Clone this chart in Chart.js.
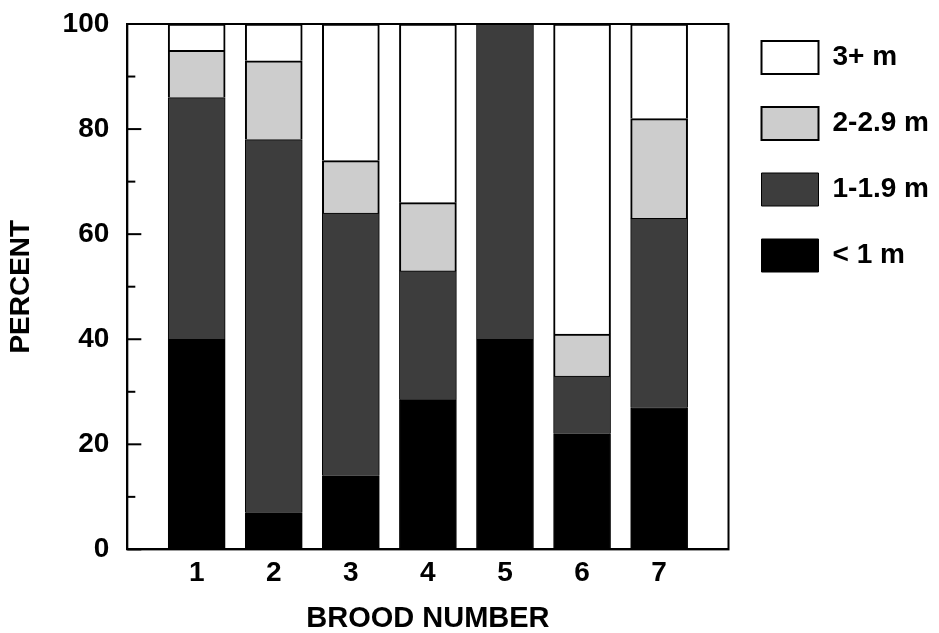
<!DOCTYPE html>
<html>
<head>
<meta charset="utf-8">
<script src="https://cdn.jsdelivr.net/npm/chart.js@4"></script>
<style>
html,body{margin:0;padding:0;background:#fff;}
#wrap{position:relative;width:939px;height:633px;}
</style>
</head>
<body>
<div id="wrap"><canvas id="c" width="939" height="633"></canvas></div>
<script>
// ---- data ----
const broods = [1, 2, 3, 4, 5, 6, 7];
const broodLabels = ['1', '2', '3', '4', '5', '6', '7'];
const seriesNames = ['< 1 m', '1-1.9 m', '2-2.9 m', '3+ m'];
const lessThan1 = [40, 7, 14, 28.5, 40, 22, 27];
const from1to19 = [46, 71, 50, 24.5, 60, 11, 36];
const from2to29 = [9, 15, 10, 13, 0, 8, 19];
const threePlus = [5, 7, 26, 34, 0, 59, 18];
const yTicks = [0, 20, 40, 60, 80, 100];
const yMinorTicks = [10, 30, 50, 70, 90];

const seriesValues = [lessThan1, from1to19, from2to29, threePlus];
const fills = ['#000000', '#3d3d3d', '#cdcdcd', '#ffffff'];

const FONT = "'Liberation Sans', Arial, Helvetica, sans-serif";

const datasets = seriesNames.map((name, i) => ({
  label: name,
  data: broods.map((b, j) => ({ x: b, y: seriesValues[i][j] })),
  backgroundColor: fills[i],
  borderColor: '#000',
  borderWidth: i >= 2 ? 2 : 1,
  barThickness: 57,
}));

const framePlugin = {
  id: 'frame',
  afterDatasetsDraw(chart) {
    const { ctx, chartArea: a } = chart;
    const y = chart.scales.y;
    ctx.save();
    ctx.strokeStyle = '#000';
    ctx.lineWidth = 2;
    ctx.strokeRect(a.left, a.top, a.right - a.left, a.bottom - a.top);
    yTicks.forEach(v => {
      const py = y.getPixelForValue(v);
      ctx.beginPath(); ctx.moveTo(a.left, py); ctx.lineTo(a.left + 14, py); ctx.stroke();
    });
    yMinorTicks.forEach(v => {
      const py = y.getPixelForValue(v);
      ctx.beginPath(); ctx.moveTo(a.left, py); ctx.lineTo(a.left + 8, py); ctx.stroke();
    });
    ctx.restore();
  }
};

new Chart(document.getElementById('c'), {
  type: 'bar',
  data: { datasets },
  options: {
    responsive: false,
    animation: false,
    layout: { padding: { left: 0, right: 0, top: 8, bottom: 0 } },
    plugins: {
      tooltip: { enabled: false },
      legend: {
        position: 'right',
        align: 'start',
        reverse: true,
        labels: {
          boxWidth: 57,
          boxHeight: 33,
          padding: 33,
          color: '#000',
          font: { family: FONT, size: 28, weight: 'bold' },
        }
      }
    },
    scales: {
      x: {
        type: 'linear',
        stacked: true,
        offset: false,
        min: 0.1,
        max: 7.9,
        afterBuildTicks(scale) { scale.ticks = broods.map(v => ({ value: v })); },
        ticks: {
          color: '#000',
          padding: 7,
          font: { family: FONT, size: 28, weight: 'bold' },
          callback: (v) => broodLabels[broods.indexOf(v)] ?? '',
          maxRotation: 0,
          autoSkip: false,
        },
        grid: { display: false, drawTicks: false },
        border: { display: true, color: '#000', width: 2 },
        title: {
          display: true,
          text: 'BROOD NUMBER',
          color: '#000',
          font: { family: FONT, size: 29, weight: 'bold', lineHeight: 1 },
          padding: { top: 7, bottom: 0 },
        }
      },
      y: {
        stacked: true,
        min: 0,
        max: 100,
        afterBuildTicks(scale) { scale.ticks = yTicks.map(v => ({ value: v })); },
        ticks: {
          color: '#000',
          padding: 18,
          font: { family: FONT, size: 28, weight: 'bold', lineHeight: '12px' },
        },
        grid: { display: false, drawTicks: false },
        border: { display: true, color: '#000', width: 2 },
        title: {
          display: true,
          text: 'PERCENT',
          color: '#000',
          font: { family: FONT, size: 28, weight: 'bold' },
          padding: { top: 4, bottom: 7 },
        }
      }
    }
  },
  plugins: [framePlugin]
});
</script>
</body>
</html>
